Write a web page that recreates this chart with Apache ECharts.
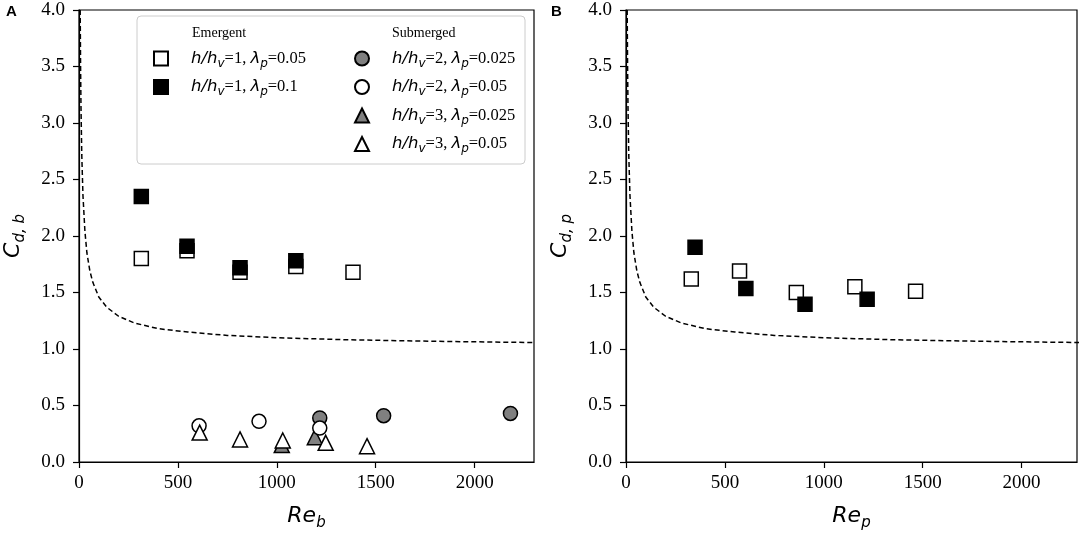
<!DOCTYPE html>
<html lang="en">
<head>
  <meta charset="UTF-8">
  <title>Cd vs Re</title>
  <style>
    html, body { margin: 0; padding: 0; background: #fff; }
    #chart { width: 1084px; height: 536px; }
  </style>
</head>
<body>
  <div id="chart"></div>
  <script src="https://cdn.jsdelivr.net/npm/echarts@6/dist/echarts.min.js"></script>
  <script>
    // panel A: bulk drag coefficient vs Re_b  [Re, Cd]
    const aEmergent05 = [[315, 1.80], [546, 1.87], [814, 1.68], [1096, 1.73], [1385, 1.68]];
    const aEmergent10 = [[315, 2.35], [546, 1.91], [814, 1.72], [1096, 1.78]];
    const aSub2_025 = [[1217, 0.39], [1540, 0.41], [2181, 0.43]];
    const aSub2_05 = [[607, 0.32], [910, 0.36], [1217, 0.30]];
    const aSub3_025 = [[1025, 0.15], [1192, 0.22]];
    const aSub3_05 = [[610, 0.26], [814, 0.20], [1030, 0.19], [1247, 0.17], [1456, 0.14]];

    // panel B: Cd,p vs Re_p
    const bEmergent05 = [[330, 1.62], [574, 1.69], [861, 1.50], [1157, 1.55], [1464, 1.51]];
    const bEmergent10 = [[349, 1.90], [606, 1.535], [905, 1.395], [1219, 1.44]];

    // dashed reference curve
    const curveRe = [6, 8, 10, 14, 20, 30, 40, 55, 70, 100, 140, 200, 280, 400, 550, 750, 1000, 1350, 1800, 2300];
    const curveCd = [4.0, 3.5, 3.15, 2.72, 2.36, 2.04, 1.85, 1.69, 1.59, 1.46, 1.37, 1.29, 1.23, 1.18, 1.15, 1.12, 1.10, 1.082, 1.068, 1.057];

    const yTickLabels = ['0.0', '0.5', '1.0', '1.5', '2.0', '2.5', '3.0', '3.5', '4.0'];
    const xTickLabels = ['0', '500', '1000', '1500', '2000'];

    const legendText = {
      e1: '{sp|}{li|h/h}{ls|v}{ln|=1, }{li|λ}{ls|p}{ln|=0.05}',
      e2: '{sp|}{li|h/h}{ls|v}{ln|=1, }{li|λ}{ls|p}{ln|=0.1}',
      s1: '{sp|}{li|h/h}{ls|v}{ln|=2, }{li|λ}{ls|p}{ln|=0.025}',
      s2: '{sp|}{li|h/h}{ls|v}{ln|=2, }{li|λ}{ls|p}{ln|=0.05}',
      s3: '{sp|}{li|h/h}{ls|v}{ln|=3, }{li|λ}{ls|p}{ln|=0.025}',
      s4: '{sp|}{li|h/h}{ls|v}{ln|=3, }{li|λ}{ls|p}{ln|=0.05}'
    };

    const curve = curveRe.map((x, i) => [x, curveCd[i]]);

    const mathRich = {
      i: { fontFamily: 'DejaVu Sans', fontStyle: 'italic', fontSize: 22, lineHeight: 30, verticalAlign: 'middle', color: '#000' },
      s: { fontFamily: 'DejaVu Sans', fontStyle: 'italic', fontSize: 15, lineHeight: 16, verticalAlign: 'bottom', color: '#000' }
    };
    const legendRich = {
      sp: { width: 18 },
      li: { fontFamily: 'DejaVu Sans', fontStyle: 'italic', fontSize: 16.5, lineHeight: 22, verticalAlign: 'middle', color: '#000' },
      ls: { fontFamily: 'DejaVu Sans', fontStyle: 'italic', fontSize: 12, lineHeight: 12, verticalAlign: 'bottom', color: '#000' },
      ln: { fontFamily: 'Liberation Serif', fontSize: 16.5, lineHeight: 22, verticalAlign: 'middle', color: '#000' }
    };

    const black = '#000';
    const gray = '#808080';

    function xAxisFor(grid, max, sub) {
      return {
        gridIndex: grid, type: 'value', min: 0, max: max, interval: 500,
        name: '{i|Re}{s|' + sub + '}', nameLocation: 'middle', nameGap: 39,
        nameTextStyle: { rich: mathRich },
        axisLine: { lineStyle: { color: black, width: 1.2 } },
        axisTick: { length: 6, lineStyle: { color: black, width: 1.2 } },
        axisLabel: {
          margin: 12, color: black, fontFamily: 'Liberation Serif', fontSize: 19,
          showMaxLabel: false,
          formatter: v => xTickLabels[v / 500] || ''
        },
        splitLine: { show: false }
      };
    }

    function yAxisFor(grid, sub) {
      return {
        gridIndex: grid, type: 'value', min: 0, max: 4, interval: 0.5,
        name: '{i|C}{s|' + sub + '}', nameLocation: 'middle', nameGap: 51,
        nameTextStyle: { rich: mathRich },
        axisLine: { lineStyle: { color: black, width: 1.2 } },
        axisTick: { length: 6, lineStyle: { color: black, width: 1.2 } },
        axisLabel: {
          margin: 14, color: black, fontFamily: 'Liberation Serif', fontSize: 19,
          formatter: v => yTickLabels[Math.round(v / 0.5)]
        },
        splitLine: { show: false }
      };
    }

    function curveSeries(grid) {
      return {
        type: 'line', xAxisIndex: grid, yAxisIndex: grid, data: curve,
        symbol: 'none', silent: true, z: 1,
        lineStyle: { color: black, width: 1.5, type: [5, 3] }
      };
    }

    function dots(name, grid, data, symbol, fill, size) {
      return {
        name: name, type: 'scatter', xAxisIndex: grid, yAxisIndex: grid, data: data,
        symbol: symbol, symbolSize: size,
        itemStyle: { color: fill, borderColor: black, borderWidth: 1.5, opacity: 1 }
      };
    }

    const chart = echarts.init(document.getElementById('chart'));
    chart.setOption({
      animation: false,
      backgroundColor: '#fff',
      grid: [
        { left: 79, top: 10, width: 455, height: 454, show: true, borderColor: black, borderWidth: 1.2 },
        { left: 626, top: 10, width: 451, height: 454, show: true, borderColor: black, borderWidth: 1.2 }
      ],
      xAxis: [xAxisFor(0, 2300, 'b'), xAxisFor(1, 2280, 'p')],
      yAxis: [yAxisFor(0, 'd, b'), yAxisFor(1, 'd, p')],
      legend: [
        {
          orient: 'vertical', left: 153, top: 50, padding: 0, itemWidth: 14, itemHeight: 14, itemGap: 9,
          selectedMode: false, data: ['e1', 'e2'], z: 6,
          formatter: n => legendText[n], textStyle: { rich: legendRich }
        },
        {
          orient: 'vertical', left: 354, top: 50, padding: 0, itemWidth: 14, itemHeight: 14, itemGap: 9,
          selectedMode: false, data: ['s1', 's2', 's3', 's4'], z: 6,
          formatter: n => legendText[n], textStyle: { rich: legendRich }
        }
      ],
      graphic: [
        {
          type: 'rect', z: 5, shape: { x: 137, y: 16, width: 388, height: 148, r: 4 },
          style: { fill: 'rgba(255,255,255,0.8)', stroke: '#cccccc', lineWidth: 1 }
        },
        { type: 'text', z: 6, x: 192, y: 33, style: { text: 'Emergent', font: '14px "Liberation Serif"', fill: black, verticalAlign: 'middle' } },
        { type: 'text', z: 6, x: 392, y: 33, style: { text: 'Submerged', font: '14px "Liberation Serif"', fill: black, verticalAlign: 'middle' } },
        { type: 'text', x: 6, y: 12, style: { text: 'A', font: 'bold 15px "Liberation Sans"', fill: black, verticalAlign: 'middle' } },
        { type: 'text', x: 551, y: 12, style: { text: 'B', font: 'bold 15px "Liberation Sans"', fill: black, verticalAlign: 'middle' } }
      ],
      series: [
        curveSeries(0),
        dots('e1', 0, aEmergent05, 'rect', '#fff', 14),
        dots('e2', 0, aEmergent10, 'rect', black, 14),
        dots('s1', 0, aSub2_025, 'circle', gray, 14),
        dots('s3', 0, aSub3_025, 'triangle', gray, 15),
        dots('s2', 0, aSub2_05, 'circle', '#fff', 14),
        dots('s4', 0, aSub3_05, 'triangle', '#fff', 15),
        curveSeries(1),
        dots('e1', 1, bEmergent05, 'rect', '#fff', 14),
        dots('e2', 1, bEmergent10, 'rect', black, 14)
      ]
    });
  </script>
</body>
</html>
